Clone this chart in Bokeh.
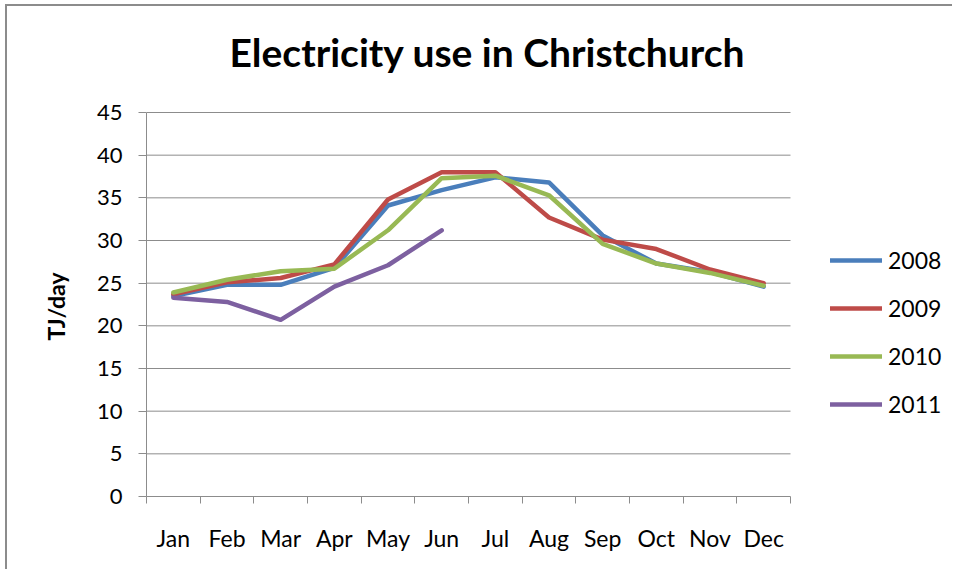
from bokeh.plotting import figure
from bokeh.models import FixedTicker, Legend, LegendItem, Range1d, Label, Title
from bokeh.embed import file_html
from bokeh.resources import INLINE

months = ["Jan", "Feb", "Mar", "Apr", "May", "Jun", "Jul", "Aug", "Sep", "Oct", "Nov", "Dec"]
years = ["2008", "2009", "2010", "2011"]
use_2008 = [23.5, 24.8, 24.8, 26.8, 34.1, 35.9, 37.4, 36.8, 30.6, 27.3, 26.3, 24.6]
use_2009 = [23.7, 25.1, 25.6, 27.2, 34.8, 38.0, 38.0, 32.7, 30.1, 29.0, 26.6, 25.0]
use_2010 = [23.9, 25.4, 26.4, 26.7, 31.2, 37.3, 37.6, 35.3, 29.6, 27.3, 26.2, 24.7]
use_2011 = [23.3, 22.8, 20.7, 24.6, 27.1, 31.2]
y_ticks = [0, 5, 10, 15, 20, 25, 30, 35, 40, 45]
title_text = "Electricity use in Christchurch"
y_label = "TJ/day"

series = [use_2008, use_2009, use_2010, use_2011]
colors = ["#4A7EBB", "#BE4B48", "#98B954", "#7D60A0"]

FONT = "Lato"
GRAY = "#8C8C8C"

# layout: the frame also hosts the title and legend areas
PLOT_W, PLOT_H = 644, 384          # pixel size of the month/0-45 area
FRAME_W, FRAME_H = 808, 490
n = len(months)
y_max = y_ticks[-1]

p = figure(width=139 + FRAME_W, height=FRAME_H + 75, output_backend="svg", toolbar_location=None,
           title=None,
           x_range=Range1d(0, n * FRAME_W / PLOT_W), y_range=Range1d(0, y_max * FRAME_H / PLOT_H),
           min_border_left=139, min_border_right=0, min_border_top=0, min_border_bottom=75)
p.styles = {"margin-left": "5px", "margin-top": "4px",
            "border-left": "2px solid #8C8C8C", "border-top": "2px solid #8C8C8C"}
p.outline_line_color = None
p.background_fill_color = "white"
p.border_fill_color = "white"
p.xgrid.visible = False
p.ygrid.visible = False

# horizontal gridlines across the month area
grid_vals = y_ticks[1:]
p.segment(x0=[0] * len(grid_vals), x1=[n] * len(grid_vals), y0=grid_vals, y1=grid_vals,
          line_color=GRAY, line_width=1)

# x axis: boundary minor ticks, labels at centers
centers = [i + 0.5 for i in range(n)]
p.xaxis.bounds = (0, n)
p.xaxis.ticker = FixedTicker(ticks=centers, minor_ticks=list(range(n + 1)))
p.xaxis.major_label_overrides = {c: m for c, m in zip(centers, months)}
p.xaxis.major_tick_out = 0
p.xaxis.major_tick_in = 0
p.xaxis.minor_tick_out = 7
p.xaxis.minor_tick_in = 0
p.xaxis.minor_tick_line_color = GRAY
p.xaxis.axis_line_color = GRAY
p.xaxis.major_label_standoff = 20
p.xaxis.major_label_text_font = FONT
p.xaxis.major_label_text_font_size = "23px"
p.xaxis.major_label_text_color = "black"

p.yaxis.bounds = (0, y_max)
p.yaxis.ticker = FixedTicker(ticks=y_ticks)
p.yaxis.minor_tick_line_color = None
p.yaxis.major_tick_out = 8
p.yaxis.major_tick_in = 0
p.yaxis.major_tick_line_color = GRAY
p.yaxis.axis_line_color = GRAY
p.yaxis.major_label_standoff = 16
p.yaxis.major_label_text_font = FONT
p.yaxis.major_label_text_font_size = "22px"
p.yaxis.major_label_text_color = "black"

# y-axis title, placed alongside the 0-45 span
ylab = Title(text=y_label, align="left", offset=156, vertical_align="bottom", standoff=48,
             text_font=FONT, text_font_style="bold", text_font_size="23px", text_color="black")
p.add_layout(ylab, "left")

items = []
for name, vals, col in zip(years, series, colors):
    xs = [i + 0.5 for i in range(len(vals))]
    r = p.line(xs, vals, line_color=col, line_width=4.5, line_join="round", line_cap="round")
    items.append(LegendItem(label=name, renderers=[r]))

legend = Legend(items=items, location=(684, 78), orientation="vertical")
legend.margin = 0
legend.padding = 0
legend.spacing = 20
legend.glyph_width = 52
legend.glyph_height = 28
legend.label_height = 28
legend.label_standoff = 6
legend.label_text_font = FONT
legend.label_text_font_size = "23px"
legend.label_text_color = "black"
legend.border_line_color = None
legend.background_fill_alpha = 0
p.add_layout(legend, "center")

title = Label(x=341, y=445, x_units="screen", y_units="screen", text=title_text,
              text_align="center", text_baseline="middle", text_font=FONT,
              text_font_style="bold", text_font_size="39px", text_color="black")
p.add_layout(title)

open("out.html", "w").write(file_html(p, INLINE))
